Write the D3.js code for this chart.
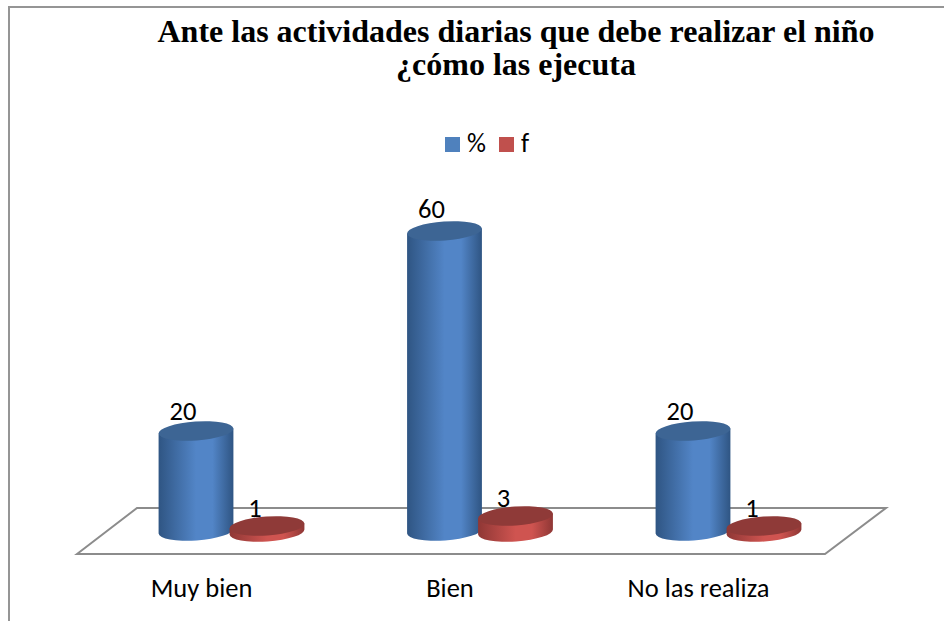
<!DOCTYPE html>
<html><head><meta charset="utf-8">
<script src="https://cdnjs.cloudflare.com/ajax/libs/d3/7.8.5/d3.min.js"></script>
<style>html,body{margin:0;padding:0;background:#fff}svg{display:block}</style></head>
<body><svg id="c" width="944" height="621"></svg>
<script>
const categories = ["Muy bien","Bien","No las realiza"];
const seriesNames = ["%","f"];
const pct = [20,60,20];
const freq = [1,3,1];
const titleLines = ["Ante las actividades diarias que debe realizar el niño","¿cómo las ejecuta"];
const colors = {"%":{mid:"#5285c7",edge:"#2f5583",top:"#3d6594",leg:"#4f81bd"},"f":{mid:"#cf5450",edge:"#8f3735",top:"#8f3a38",leg:"#c0504d"}};

const svg = d3.select("#c");
const defs = svg.append("defs");
seriesNames.forEach((s,i)=>{
  const g = defs.append("linearGradient").attr("id","g"+i).attr("x1",0).attr("x2",1).attr("y1",0).attr("y2",0);
  [[0,colors[s].edge],[.5,colors[s].mid],[.72,colors[s].mid],[1,colors[s].edge]].forEach(d=>g.append("stop").attr("offset",d[0]).attr("stop-color",d[1]));
});

// frame
svg.append("path").attr("d","M9,621V7H944").attr("fill","none").attr("stroke","#959595").attr("stroke-width",2);

// title
svg.append("text").attr("text-anchor","middle").attr("font-family","Liberation Serif").attr("font-weight","bold").attr("font-size",32).attr("fill","#000")
 .selectAll("tspan").data(titleLines).join("tspan").attr("x",516).attr("y",(d,i)=>42+i*33).text(d=>d);

// floor
const floor = d3.line();
svg.append("path").attr("d",floor([[77,554],[137,508],[886,508],[825,554]])+"Z").attr("fill","#fff").attr("stroke","#8c8c8c").attr("stroke-width",2);

// scales
const x0 = d3.scalePoint().domain(categories).range([196,693]);
const x1 = d3.scalePoint().domain(seriesNames).range([0,71]);
const y = d3.scaleLinear().domain([0,60]).range([531,231]);
const rx = 37.5, ry = 9.5, tilt = -4;

function cylinder(cx,base,top,s,i){
  const g = svg.append("g");
  const a = tilt*Math.PI/180;
  const dx = rx*Math.cos(a), dy = rx*Math.sin(a);
  g.append("path").attr("d",`M${cx-dx},${top-dy}L${cx-dx},${base-dy}A${rx},${ry} ${tilt} 0 0 ${cx+dx},${base+dy}L${cx+dx},${top+dy}Z`).attr("fill",`url(#g${i})`);
  g.append("ellipse").attr("cx",cx).attr("cy",top).attr("rx",rx).attr("ry",ry).attr("transform",`rotate(${tilt} ${cx} ${top})`).attr("fill",colors[s].top);
}
const rows = [pct,freq];
const labelFont = "Carlito, Open Sans, Noto Sans";
categories.forEach((c,k)=>{
  seriesNames.forEach((s,i)=>{
    const v = rows[i][k], cx = x0(c)+x1(s);
    cylinder(cx,y(0)+(i?1:0),y(v),s,i);
  });
  seriesNames.forEach((s,i)=>{
    const v = rows[i][k], cx = x0(c)+x1(s);
    svg.append("text").attr("x",i?cx-12:cx-13).attr("y",y(v)+(i?-9:-11)-(v===60?2:0)).attr("text-anchor","middle").attr("font-family",labelFont).attr("font-size",26.5).attr("fill","#000").text(v);
  });
  svg.append("text").attr("x",x0(c)+5.5).attr("y",597).attr("text-anchor","middle").attr("font-family",labelFont).attr("font-size",26.5).attr("fill","#000").text(c);
});

// legend
const lx = d3.scalePoint().domain(seriesNames).range([445,499]);
seriesNames.forEach(s=>{
  svg.append("rect").attr("x",lx(s)).attr("y",137).attr("width",15).attr("height",15).attr("fill",colors[s].leg);
  svg.append("text").attr("x",lx(s)+22).attr("y",152).attr("font-family",labelFont).attr("font-size",26.5).attr("fill","#000").text(s);
});
</script></body></html>
